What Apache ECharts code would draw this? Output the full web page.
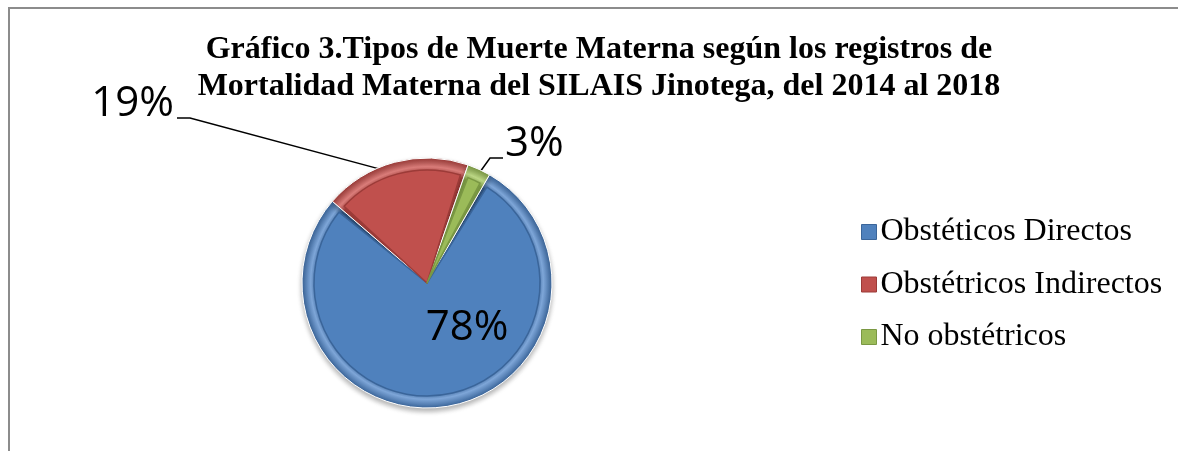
<!DOCTYPE html>
<html>
<head>
<meta charset="utf-8">
<script src="https://cdn.jsdelivr.net/npm/echarts@6/dist/echarts.min.js"></script>
<style>
  html, body { margin: 0; padding: 0; background: #fff; }
  #chart { width: 1178px; height: 451px; }
</style>
</head>
<body>
<div id="chart"></div>
<script>
// datos del gráfico
const categorias = ['Obstéticos Directos', 'Obstétricos Indirectos', 'No obstétricos']
const porcentajes = [78, 19, 3]
const titulo = 'Gráfico 3.Tipos de Muerte Materna según los registros de\nMortalidad Materna del SILAIS Jinotega, del 2014 al 2018'

// colores (cara y borde biselado)
const colores = ['#4F81BD', '#C0504D', '#9BBB59']
const bordes = ['#3A659A', '#9C3B38', '#7A9843']
const claros = ['#7EA6D8', '#DA7D7A', '#BCD785']

const centro = [427, 283]
const radio = 125

const rimGradient = (i) => ({
  type: 'radial', global: true, x: centro[0], y: centro[1], r: radio,
  colorStops: [
    { offset: 0, color: bordes[i] },
    { offset: 0.88, color: bordes[i] },
    { offset: 0.93, color: claros[i] },
    { offset: 1, color: bordes[i] }
  ]
})

const chart = echarts.init(document.getElementById('chart'))

chart.setOption({
  animation: false,
  title: {
    text: titulo,
    left: 594,
    top: 26,
    textAlign: 'center',
    textStyle: {
      fontFamily: 'Liberation Serif',
      fontWeight: 'bold',
      fontSize: 32,
      lineHeight: 37,
      color: '#000'
    }
  },
  legend: {
    orient: 'vertical',
    left: 856,
    top: 211,
    itemWidth: 15,
    itemHeight: 15,
    itemGap: 20.5,
    icon: 'rect',
    data: categorias.map((c, i) => ({
      name: c,
      itemStyle: { color: colores[i], borderColor: bordes[i], borderWidth: 1 }
    })),
    textStyle: {
      fontFamily: 'Liberation Serif',
      fontSize: 32,
      color: '#000',
      padding: [0, 0, 0, -1]
    }
  },
  graphic: [{
    type: 'polyline',
    shape: { points: [[9, 451], [9, 8], [1178, 8]] },
    style: { stroke: '#8c8c8c', lineWidth: 2, fill: null }
  }],
  series: [
    {
      // borde exterior (bisel)
      type: 'pie',
      center: centro,
      radius: [0, radio],
      startAngle: 60,
      clockwise: true,
      silent: true,
      label: { show: false },
      labelLine: { show: false },
      itemStyle: {
        borderColor: '#ffffff',
        borderWidth: 1,
        shadowColor: 'rgba(0,0,0,0.3)',
        shadowBlur: 5,
        shadowOffsetY: 3
      },
      data: porcentajes.map((v, i) => ({
        name: categorias[i],
        value: v,
        itemStyle: { color: rimGradient(i) }
      }))
    },
    {
      // cara de cada sector
      type: 'pie',
      center: centro,
      radius: [0, radio - 12],
      startAngle: 60,
      clockwise: true,
      padAngle: 4,
      itemStyle: { borderWidth: 1.5 },
      label: {
        show: true,
        formatter: '{d}%',
        fontFamily: 'Open Sans',
        fontSize: 42,
        color: '#000'
      },
      labelLine: {
        show: true,
        length: 12,
        length2: 10,
        lineStyle: { color: '#000', width: 1.5 }
      },
      labelLayout: (p) => {
        const a = p.labelLinePoints ? p.labelLinePoints[0] : null
        if (p.dataIndex === 0) return { x: 467, y: 328, align: 'center', verticalAlign: 'middle' }
        if (p.dataIndex === 1) {
          return {
            x: 174, y: 104, align: 'right', verticalAlign: 'middle',
            labelLinePoints: a ? [a, [190, 118], [177, 118]] : undefined
          }
        }
        return {
          x: 505, y: 144, align: 'left', verticalAlign: 'middle',
          labelLinePoints: a ? [a, [490, 158], [503, 158]] : undefined
        }
      },
      data: porcentajes.map((v, i) => ({
        name: categorias[i],
        value: v,
        label: i === 0 ? { position: 'inside' } : { position: 'outside' },
        labelLine: { show: i !== 0 },
        itemStyle: { color: colores[i], borderColor: bordes[i] }
      }))
    }
  ]
})
</script>
</body>
</html>
